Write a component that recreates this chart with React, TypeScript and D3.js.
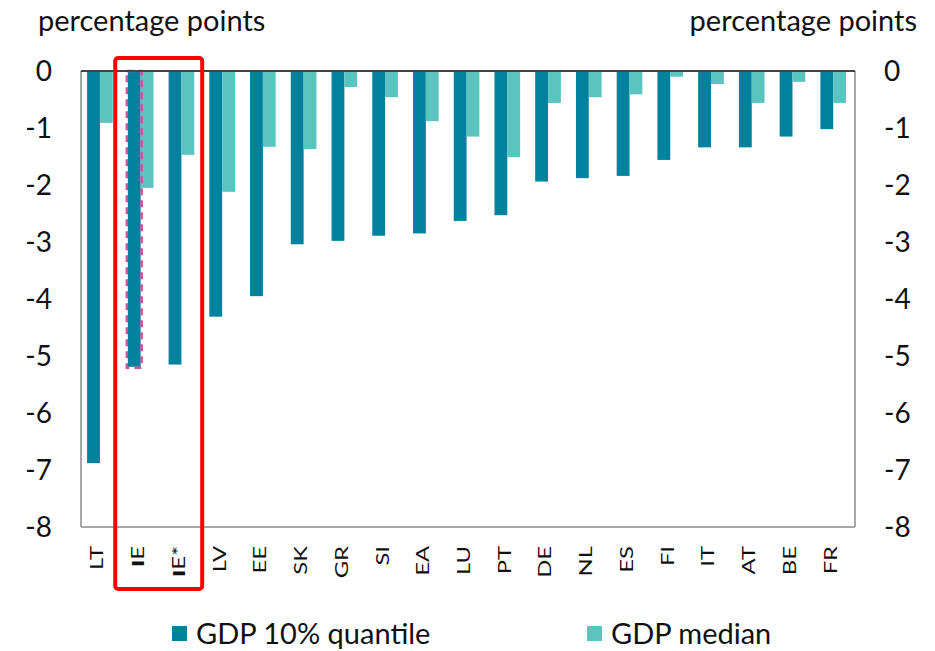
import React from "react";
import * as d3 from "d3";

const categories = ["LT", "IE", "IE*", "LV", "EE", "SK", "GR", "SI", "EA", "LU", "PT", "DE", "NL", "ES", "FI", "IT", "AT", "BE", "FR"];
const q10 = [-6.88, -5.19, -5.15, -4.31, -3.95, -3.04, -2.98, -2.89, -2.85, -2.63, -2.53, -1.94, -1.88, -1.84, -1.56, -1.34, -1.34, -1.15, -1.02];
const median = [-0.91, -2.05, -1.47, -2.12, -1.33, -1.37, -0.28, -0.46, -0.88, -1.15, -1.51, -0.56, -0.46, -0.41, -0.1, -0.23, -0.56, -0.19, -0.56];
const yTicks = [0, -1, -2, -3, -4, -5, -6, -7, -8];
const dashedCat = "IE";
const boxCats = ["IE", "IE*"];
const legendItems = ["GDP 10% quantile", "GDP median"];

const DARK = "#00819E";
const LIGHT = "#5BC4BF";
const FONT = "Lato, 'Open Sans', sans-serif";

export default function App() {
  const W = 935, H = 651;
  const L = 81, R = 855, T = 71, B = 527;
  const x = d3.scaleBand<string>().domain(categories).range([L, R]).padding(0);
  const y = d3.scaleLinear().domain([-8, 0]).range([B, T]);
  const bw = x.bandwidth();
  const off = bw * 0.15;
  const w = bw * 0.315;

  const bx0 = x(boxCats[0])!;
  const bx1 = x(boxCats[boxCats.length - 1])! + bw;

  const renderLabel = (c: string) => {
    if (c.startsWith("IE")) {
      return (
        <>
          <tspan fontWeight={900}>I</tspan>
          <tspan>{c.slice(1)}</tspan>
        </>
      );
    }
    return c;
  };

  return (
    <svg width={W} height={H} style={{ position: "absolute", left: 0, top: 0, fontFamily: FONT }}>
      <rect x={0} y={0} width={W} height={H} fill="#fff" />
      <text x={38} y={31} fontSize={29} fill="#111">percentage points</text>
      <text x={917} y={31} fontSize={29} fill="#111" textAnchor="end">percentage points</text>

      {categories.map((c, i) => {
        const x0 = x(c)! + off;
        return (
          <g key={c}>
            <rect x={x0} y={y(0)} width={w} height={y(q10[i]) - y(0)} fill={DARK} />
            <rect x={x0 + w} y={y(0)} width={w} height={y(median[i]) - y(0)} fill={LIGHT} />
            {c === dashedCat && (
              <rect x={x0 - 1} y={y(0)} width={w + 2} height={y(q10[i]) - y(0) + 1} fill="none" stroke="#D4509A" strokeWidth={2.5} strokeDasharray="7,5" />
            )}
          </g>
        );
      })}

      <line x1={L} x2={L} y1={T} y2={B} stroke="#888" strokeWidth={1.5} />
      <line x1={R} x2={R} y1={T} y2={B} stroke="#888" strokeWidth={1.5} />
      <line x1={L} x2={R} y1={B} y2={B} stroke="#888" strokeWidth={1.5} />
      <line x1={L} x2={R} y1={y(0)} y2={y(0)} stroke="#444" strokeWidth={2} />

      {yTicks.map((t) => (
        <g key={t}>
          <text x={52} y={y(t)} dy="0.36em" fontSize={28} textAnchor="end" fill="#111">{t === 0 ? "0" : "-" + Math.abs(t)}</text>
          <text x={884} y={y(t)} dy="0.36em" fontSize={28} textAnchor="start" fill="#111">{t === 0 ? "0" : "-" + Math.abs(t)}</text>
        </g>
      ))}

      {categories.map((c) => {
        const cx = x(c)! + bw / 2;
        return (
          <text key={c} transform={`translate(${cx + 2},546) rotate(-90) scale(1.4,1)`} fontSize={17} textAnchor="end" fill="#111">
            {renderLabel(c)}
          </text>
        );
      })}

      <rect x={bx0 - 6.5} y={58} width={bx1 - bx0 + 5.5} height={531} rx={3} fill="none" stroke="#FF0000" strokeWidth={4} />

      <rect x={172} y={626} width={15} height={15} fill={DARK} />
      <text x={196} y={644} fontSize={29} fill="#111">{legendItems[0]}</text>
      <rect x={587} y={626} width={15} height={15} fill={LIGHT} />
      <text x={611} y={644} fontSize={29} fill="#111">{legendItems[1]}</text>
    </svg>
  );
}
